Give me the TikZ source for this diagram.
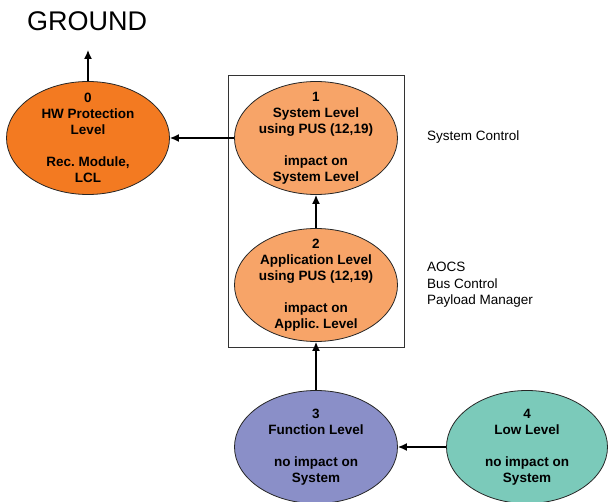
\documentclass[tikz,border=0pt]{standalone}
\usepackage{fontspec}
\setmainfont{Liberation Sans}
\usetikzlibrary{arrows.meta,shapes.geometric}
\frenchspacing

\definecolor{hwOrange}{HTML}{F37A21}
\definecolor{sysOrange}{HTML}{F7A468}
\definecolor{funBlue}{HTML}{8A8FC8}
\definecolor{lowTeal}{HTML}{7BCABA}

\tikzset{
    lvl/.style={ellipse, draw=black!85, line width=0.8pt, inner sep=0pt,
        minimum width=163pt, minimum height=113pt},
    lvltext/.style={font=\fontsize{13.5}{16}\selectfont\bfseries, align=center},
    side/.style={font=\fontsize{13.5}{16.5}\selectfont, align=left, inner sep=0pt},
    arr/.style={-{Latex[length=9pt,width=8pt]}, line width=1.4pt}
}

\begin{document}
\begin{tikzpicture}[x=1pt,y=-1pt]
    \useasboundingbox (0,0) rectangle (608,502);
    % frame round levels 1 and 2
    \draw[line width=0.8pt, black!80] (228,75) rectangle (404,347);

    \node[anchor=base west, inner sep=0pt, font=\fontsize{27}{32}\selectfont] (gnd) at (27,31) {GROUND};
    \coordinate (gndtip) at (88,50);

    \node[lvl, fill=hwOrange, label={[lvltext]center:0\\HW Protection\\Level\\[16pt]Rec. Module,\\LCL}] (L0) at (88,138) {};
    \node[lvl, fill=sysOrange, label={[lvltext]center:1\\System Level\\using PUS (12,19)\\[16pt]impact on\\System Level}] (L1) at (316,138) {};
    \node[lvl, fill=sysOrange, label={[lvltext]center:2\\Application Level\\using PUS (12,19)\\[16pt]impact on\\Applic. Level}] (L2) at (316,285) {};
    \node[lvl, fill=funBlue, label={[lvltext]center:3\\Function Level\\[16pt]no impact on\\System}] (L3) at (316,447) {};
    \node[lvl, fill=lowTeal, minimum width=161pt, label={[lvltext]center:4\\Low Level\\[16pt]no impact on\\System}] (L4) at (527,447) {};

    \node[side, anchor=base west] (sysctl) at (427,141) {System Control};
    \node[side, anchor=base west] (apps) at (427,305) {AOCS\\Bus Control\\Payload Manager};

    \draw[arr] (L0) -- (gndtip);
    \draw[arr] (L1) -- (L0);
    \draw[arr] (L2) -- (L1);
    \draw[arr] (L3) -- (L2);
    \draw[arr] (L4) -- (L3);
\end{tikzpicture}
\end{document}
